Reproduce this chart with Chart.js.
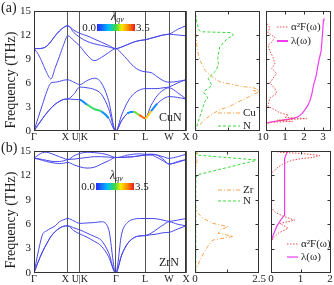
<!DOCTYPE html>
<html>
<head>
<meta charset="utf-8">
<script src="https://cdn.jsdelivr.net/npm/chart.js"></script>
<style>
  body { margin: 0; background: #fff; }
  #wrap { position: relative; width: 334px; height: 285px; overflow: hidden; font-family: 'Liberation Serif', serif; color: #222; }
  canvas { position: absolute; left: 0; top: 0; }
  .lbl { position: absolute; white-space: nowrap; line-height: 1; }
  .ytitle { position: absolute; white-space: nowrap; line-height: 1; font-size: 14px; transform: translate(-50%, -50%) rotate(-90deg); }
</style>
</head>
<body>
<div id="wrap">
  <canvas id="dispA" width="334" height="285"></canvas>
  <canvas id="dosA" width="334" height="285"></canvas>
  <canvas id="elA" width="334" height="285"></canvas>
  <canvas id="dispB" width="334" height="285"></canvas>
  <canvas id="dosB" width="334" height="285"></canvas>
  <canvas id="elB" width="334" height="285"></canvas>
  <div class="lbl" style="left:1px;top:1px;font-size:14px">(a)</div>
  <div class="lbl" style="left:1px;top:141px;font-size:14px">(b)</div>
  <div class="ytitle" style="left:11px;top:80px">Frequency (THz)</div>
  <div class="ytitle" style="left:11px;top:220px">Frequency (THz)</div>
  <div class="lbl" style="left:159px;top:111px;font-size:12px">CuN</div>
  <div class="lbl" style="left:159px;top:256px;font-size:12px">ZrN</div>
</div>
<script>
// --- chemin des points de haute symétrie ---
const kPos = [0, 0.125, 0.25, 0.375, 0.5, 0.625, 0.75, 0.875, 1, 1.177, 1.354, 1.566, 1.778, 1.99, 2.202, 2.414,
  2.587, 2.76, 2.934, 3.107, 3.28, 3.457, 3.634, 3.81, 3.987, 4.237, 4.487];
const symPos = [0, 1, 1.354, 2.414, 3.28, 3.987, 4.487];
const symLabels = ['Γ', 'X\u2002', 'U|K', 'Γ', 'L', 'W', 'X'];
const freqTicks = [0, 3, 6, 9, 12, 15];
const lamRange = [0.0, 3.5];

// --- CuN bandes (THz) ---
const cuBand1 = [0, 0.8, 1.55, 2.25, 2.85, 3.35, 3.7, 3.95, 4.0, 3.95, 3.9, 3.3, 2.75, 2.45, 1.6, 0, 1.3, 2.2, 2.4, 2.0, 1.6, 2.5, 3.4, 4.0, 4.3, 4.2, 4.0];
const cuBand2 = [0, 0.8, 1.55, 2.25, 2.85, 3.35, 3.7, 3.95, 4.0, 4.6, 5.5, 5.4, 5.2, 4.6, 2.8, 0, 1.3, 2.2, 2.4, 2.0, 1.6, 3.2, 4.4, 5.1, 5.4, 4.8, 4.0];
const cuBand3 = [0, 1.7, 3.3, 4.9, 6.0, 6.1, 6.2, 6.35, 6.4, 6.1, 5.8, 6.3, 6.6, 6.0, 3.8, 0, 2.0, 3.6, 4.6, 5.1, 5.3, 5.3, 5.3, 5.4, 5.5, 6.0, 6.4];
const cuBand4 = [10.3, 9.6, 8.5, 7.3, 6.5, 7.9, 9.3, 10.8, 11.9, 11.3, 10.6, 9.5, 8.8, 9.2, 9.8, 10.3, 9.7, 8.9, 8.1, 7.6, 7.4, 7.3, 6.8, 6.3, 6.1, 6.2, 6.4];
const cuBand5 = [10.3, 10.3, 10.35, 10.6, 11.2, 11.9, 12.5, 12.95, 13.15, 12.3, 11.7, 11.2, 10.9, 10.7, 10.5, 10.3, 10.5, 10.8, 11.1, 11.3, 11.4, 11.6, 11.8, 12.0, 12.1, 12.0, 11.9];
const cuBand6 = [10.3, 10.3, 10.35, 10.6, 11.2, 11.9, 12.5, 12.95, 13.15, 12.6, 12.2, 11.9, 11.5, 11.1, 10.7, 10.3, 10.5, 10.8, 11.1, 11.3, 11.4, 11.6, 11.8, 12.0, 12.1, 12.7, 13.15];
const cuLambda = [0, 0, 0, 0, 0, 0, 0, 0, 0, 0, 0, 1.3, 2.0, 1.2, 0.3, 0, 0, 0.3, 1.1, 2.7, 3.5, 1.4, 0, 0, 0, 0, 0];

// --- ZrN bandes (THz) ---
const zrBand1 = [0, 1.4, 2.6, 3.6, 4.5, 5.1, 5.5, 5.75, 5.8, 5.55, 5.3, 4.9, 4.5, 4.0, 2.5, 0, 2.2, 3.6, 4.3, 4.55, 4.6, 4.7, 4.8, 4.95, 5.0, 5.4, 5.8];
const zrBand2 = [0, 1.4, 2.6, 3.6, 4.5, 5.1, 5.5, 5.75, 5.8, 5.2, 4.8, 4.4, 3.9, 3.3, 2.0, 0, 2.2, 3.6, 4.3, 4.55, 4.6, 4.9, 5.4, 5.9, 6.3, 6.0, 5.8];
const zrBand3 = [0, 2.6, 4.7, 5.2, 5.5, 5.8, 6.3, 6.55, 6.7, 6.4, 6.1, 6.15, 6.2, 6.3, 5.4, 0, 4.8, 6.2, 6.6, 6.7, 6.7, 6.7, 6.65, 6.5, 6.35, 6.5, 6.7];
const zrBand4 = [14.1, 14.5, 14.8, 14.85, 14.7, 14.5, 14.3, 14.1, 13.95, 14.4, 14.7, 14.85, 14.8, 14.7, 14.5, 14.2, 14.3, 14.5, 14.6, 14.65, 14.6, 14.6, 14.5, 14.3, 14.1, 14.3, 14.6];
const zrBand5 = [14.1, 14.05, 13.95, 13.85, 13.75, 13.7, 13.7, 13.8, 13.95, 14.0, 14.1, 14.2, 14.3, 14.3, 14.25, 14.2, 14.2, 14.25, 14.3, 14.4, 14.5, 14.5, 14.2, 13.8, 13.4, 13.6, 13.95];
const zrBand6 = [14.1, 14.0, 13.85, 13.7, 13.6, 13.5, 13.45, 13.5, 13.6, 13.3, 13.05, 12.9, 13.0, 13.4, 13.8, 14.2, 14.2, 14.25, 14.3, 14.4, 14.5, 14.6, 14.5, 14.0, 13.4, 13.7, 13.95];

// --- PDOS CuN ---
const cuFreqA = [0, 0.5, 0.8, 1.2, 1.6, 2.2, 2.65, 3.1, 3.6, 4.1, 4.5, 4.9, 5.05, 5.2, 5.4, 5.55, 5.7, 6.15, 6.8, 7.6, 8.8, 10.1, 11.5, 12.2, 13.5, 15];
const cuDosA = [0, 0.01, 0.08, 0.12, 0.18, 0.28, 0.38, 0.54, 0.65, 0.79, 0.88, 0.99, 0.9, 0.97, 0.9, 0.75, 0.64, 0.38, 0.26, 0.15, 0.08, 0.035, 0.02, 0.015, 0.005, 0];
const nFreqA = [0, 0.2, 1.2, 2.4, 3.7, 4.1, 4.9, 5.7, 6.6, 7.2, 7.6, 8.4, 9.2, 10.5, 11.5, 12.0, 12.3, 12.4, 12.6, 13.5, 14.6, 15];
const nDosA = [0, 0.01, 0.05, 0.1, 0.15, 0.2, 0.13, 0.26, 0.2, 0.28, 0.33, 0.36, 0.35, 0.38, 0.49, 0.59, 0.55, 0.1, 0.06, 0.03, 0.01, 0];

// --- alpha2F et lambda CuN ---
const a2fFreqA = [0, 0.9, 1.1, 1.2, 1.35, 1.55, 1.7, 2.0, 2.3, 2.65, 3.1, 3.6, 4.1, 4.7, 5.3, 6.0, 6.6, 7.2, 7.8, 8.4, 9.2, 10.0, 10.7, 11.1, 11.7, 12.3, 12.9, 13.5, 14];
const a2fA = [0, 0, 0.3, 1.4, 0.6, 2.14, 1.0, 1.17, 0.7, 0.47, 0.1, 0.15, 0.2, 0.56, 0.47, 0.2, 0.37, 0.56, 0.3, 0.47, 0.37, 0.2, 0.1, 0.3, 0.47, 0.1, 0.2, 0.04, 0];
const lamFreqA = [0, 1.0, 1.15, 1.35, 1.6, 1.8, 2.2, 2.65, 3.2, 3.7, 4.5, 5.7, 7.0, 7.8, 9.0, 10.0, 12.0, 13.8, 14.1];
const lamA = [0, 0.02, 0.3, 0.9, 1.5, 1.7, 1.9, 2.05, 2.2, 2.3, 2.4, 2.5, 2.65, 2.7, 2.8, 2.9, 2.97, 3.02, 3.05];

// --- PDOS ZrN ---
const zrFreqB = [0, 0.5, 1.6, 2.4, 3.3, 4.05, 4.5, 4.9, 5.3, 5.7, 6.1, 6.7, 7.3, 8, 9, 12.5, 13.2, 13.8, 14.3, 14.8, 15];
const zrDosB = [0, 0.05, 0.2, 0.33, 0.5, 0.7, 1.5, 0.9, 1.0, 1.3, 0.7, 0.33, 0.13, 0.03, 0.01, 0.01, 0.06, 0.08, 0.05, 0.1, 0.02];
const nFreqB = [0, 11.5, 12.05, 13.8, 13.9, 14.5, 15];
const nDosB = [0.03, 0.03, 0.07, 2.34, 2.4, 0.07, 0.03];

// --- alpha2F et lambda ZrN ---
const a2fFreqB = [0, 3.9, 4.3, 4.9, 5.5, 6.1, 6.5, 7.0, 7.5, 8.0, 12.3, 12.9, 13.4, 13.85, 14.05, 14.2, 14.45, 14.7, 14.85, 15];
const a2fB = [0, 0, 0.08, 0.25, 0.58, 0.3, 0.8, 0.4, 0.13, 0.02, 0.02, 0.2, 0.4, 0.7, 1.0, 1.4, 1.65, 1.0, 0.3, 0.1];
const lamFreqB = [0, 3.85, 4.7, 5.7, 6.7, 7.1, 13.8, 14.1, 14.7, 15];
const lamB = [0, 0, 0.08, 0.19, 0.36, 0.45, 0.45, 0.47, 0.53, 0.56];

const W = 334, H = 285;
const serif = "'Liberation Serif', 'Times New Roman', serif";
Chart.defaults.font.family = serif;
Chart.defaults.font.size = 11;
Chart.defaults.color = '#222';

const bandColor = 'rgb(72,72,238)';
const lamStops = [[0, [40, 40, 255]], [0.3, [0, 190, 255]], [0.5, [60, 220, 60]], [0.65, [250, 235, 0]], [0.82, [255, 140, 0]], [1, [235, 25, 25]]];

function jet(t) {
  t = Math.max(0, Math.min(1, t));
  for (let i = 1; i < lamStops.length; i++) {
    const [t0, c0] = lamStops[i - 1];
    const [t1, c1] = lamStops[i];
    if (t <= t1) {
      const u = (t - t0) / (t1 - t0);
      return 'rgb(' + c0.map((v, j) => Math.round(v + (c1[j] - v) * u)).join(',') + ')';
    }
  }
}

const pts = (xs, ys) => xs.map((x, i) => ({ x: x, y: ys[i] }));
const dosPts = (fs, ds) => fs.map((f, i) => ({ x: ds[i], y: f }));
const numLabel = v => String(v);

// cadre + petits traits intérieurs
const framePlugin = {
  id: 'frame',
  afterDatasetsDraw(chart, args, o) {
    const { ctx, chartArea: a, scales } = chart;
    const L = Math.round(a.left) + 0.5, R = Math.round(a.right) - 0.5, T = Math.round(a.top) + 0.5, B = Math.round(a.bottom) - 0.5;
    ctx.save();
    ctx.strokeStyle = '#333';
    ctx.lineWidth = 1;
    ctx.strokeRect(L, T, R - L, B - T);
    ctx.beginPath();
    (o.yTicks || []).forEach(v => {
      const y = Math.round(scales.y.getPixelForValue(v)) + 0.5;
      ctx.moveTo(L, y); ctx.lineTo(L + 3, y);
      ctx.moveTo(R, y); ctx.lineTo(R - 3, y);
    });
    (o.xTicks || []).forEach(v => {
      const x = Math.round(scales.x.getPixelForValue(v)) + 0.5;
      ctx.moveTo(x, T); ctx.lineTo(x, T + 3);
      ctx.moveTo(x, B); ctx.lineTo(x, B - 3);
    });
    ctx.stroke();
    ctx.restore();
  }
};

// barre de couleur lambda_qv
const cbarPlugin = {
  id: 'cbar',
  afterDraw(chart, args, o) {
    if (!o || o.x === undefined) return;
    const ctx = chart.ctx;
    ctx.save();
    const g = ctx.createLinearGradient(o.x, 0, o.x + o.w, 0);
    lamStops.forEach(([t, c]) => g.addColorStop(t, 'rgb(' + c.join(',') + ')'));
    ctx.fillStyle = g;
    ctx.fillRect(o.x, o.y, o.w, o.h);
    ctx.fillStyle = '#222';
    ctx.font = '11px ' + serif;
    ctx.textBaseline = 'middle';
    ctx.textAlign = 'right';
    ctx.fillText(lamRange[0].toFixed(1), o.x - 1, o.y + o.h / 2 + 1);
    ctx.textAlign = 'left';
    ctx.fillText(lamRange[1].toFixed(1), o.x + o.w + 1, o.y + o.h / 2 + 1);
    ctx.font = 'italic 12px ' + serif;
    ctx.fillText('λ', o.lx, o.ly);
    const lw = ctx.measureText('λ').width;
    ctx.font = 'italic 8px ' + serif;
    ctx.fillText('qv', o.lx + lw, o.ly + 3);
    ctx.restore();
  }
};

// légende maison
const keyPlugin = {
  id: 'keys',
  afterDraw(chart, args, o) {
    const ctx = chart.ctx;
    (o.items || []).forEach(it => {
      const ds = chart.data.datasets[it.ds];
      ctx.save();
      ctx.strokeStyle = ds.borderColor;
      ctx.lineWidth = it.lw || ds.borderWidth;
      ctx.setLineDash(ds.borderDash || []);
      ctx.beginPath();
      ctx.moveTo(it.x, it.y);
      ctx.lineTo(it.x + it.len, it.y);
      ctx.stroke();
      ctx.setLineDash([]);
      ctx.fillStyle = '#222';
      ctx.font = '11px ' + serif;
      ctx.textBaseline = 'middle';
      ctx.fillText(ds.label, it.x + it.len + 3, it.y + 0.5);
      ctx.restore();
    });
  }
};

function fixSize(size) {
  return function (s) {
    if (s.isHorizontal()) s.height = size; else s.width = size;
    s.paddingLeft = 0; s.paddingRight = 0; s.paddingTop = 0; s.paddingBottom = 0;
  };
}

function panel(id, area, cfg) {
  const yw = cfg.yw || 0, xh = 12;
  return new Chart(document.getElementById(id), {
    type: 'line',
    data: { datasets: cfg.datasets },
    options: {
      responsive: false,
      animation: false,
      devicePixelRatio: 1,
      events: [],
      layout: { padding: { left: area.l - yw, top: area.t, right: W - area.r, bottom: Math.max(0, H - area.b - xh) } },
      plugins: {
        legend: { display: false },
        tooltip: { enabled: false },
        frame: { xTicks: cfg.innerX || [], yTicks: cfg.innerY || [] },
        cbar: cfg.cbar || {},
        keys: { items: cfg.keys || [] }
      },
      scales: {
        x: {
          type: 'linear', min: cfg.xMin, max: cfg.xMax,
          afterBuildTicks: s => { s.ticks = cfg.xTicks.map(v => ({ value: v })); },
          afterFit: fixSize(xh),
          grid: cfg.xGrid || { display: false, drawTicks: false },
          border: { display: false },
          ticks: { autoSkip: false, maxRotation: 0, padding: 0, color: '#222', font: { size: cfg.xFont || 11 }, callback: cfg.xLabel || numLabel }
        },
        y: {
          type: 'linear', min: 0, max: 15,
          display: yw > 0,
          afterBuildTicks: s => { s.ticks = freqTicks.map(v => ({ value: v })); },
          afterFit: fixSize(yw),
          grid: { display: false, drawTicks: false },
          border: { display: false },
          ticks: { autoSkip: false, padding: 3, color: '#222', font: { size: 11 }, callback: numLabel }
        }
      }
    },
    plugins: [framePlugin, cbarPlugin, keyPlugin]
  });
}

function bandSets(bands, lam) {
  return bands.map((b, n) => {
    const ds = { data: pts(kPos, b), borderColor: bandColor, borderWidth: 1, pointRadius: 0, cubicInterpolationMode: 'monotone', order: n === 0 ? 0 : 1 };
    if (lam && n === 0) {
      const avg = c => (lam[c.p0DataIndex] + lam[c.p1DataIndex]) / 2;
      ds.segment = {
        borderColor: c => (avg(c) > 0.2 ? jet(avg(c) / lamRange[1]) : bandColor),
        borderWidth: c => (avg(c) > 0.2 ? 2 : 1)
      };
    }
    return ds;
  });
}

const dispGrid = { display: true, drawTicks: false, color: '#555', lineWidth: 1 };
const symLabel = (v, i) => symLabels[i];

// (a) CuN
panel('dispA', { l: 34, t: 11, r: 186, b: 131 }, {
  yw: 26, xMin: 0, xMax: symPos[symPos.length - 1], xTicks: symPos, xLabel: symLabel, xGrid: dispGrid, xFont: 10,
  datasets: bandSets([cuBand1, cuBand2, cuBand3, cuBand4, cuBand5, cuBand6], cuLambda),
  cbar: { x: 97, y: 24, w: 38, h: 7, lx: 111, ly: 17 }
});
panel('dosA', { l: 195, t: 11, r: 260, b: 131 }, {
  xMin: 0, xMax: 1, xTicks: [0, 1], innerX: [0.5], innerY: [3, 6, 9, 12],
  datasets: [
    { label: 'Cu', data: dosPts(cuFreqA, cuDosA), borderColor: '#f6a54c', borderWidth: 1, borderDash: [4, 2, 1, 2], pointRadius: 0 },
    { label: 'N', data: dosPts(nFreqA, nDosA), borderColor: '#3ad83a', borderWidth: 1, borderDash: [3, 2], pointRadius: 0 }
  ],
  keys: [{ ds: 0, x: 218, y: 113, len: 22 }, { ds: 1, x: 218, y: 126, len: 22 }]
});
panel('elA', { l: 266, t: 11, r: 331, b: 131 }, {
  xMin: 0, xMax: 3.42, xTicks: [0, 1, 2, 3], innerX: [1, 2, 3], innerY: [3, 6, 9, 12],
  datasets: [
    { label: 'α²F(ω)', data: dosPts(a2fFreqA, a2fA), borderColor: '#f04a4a', borderWidth: 1, borderDash: [1.5, 1.5], pointRadius: 0 },
    { label: 'λ(ω)', data: dosPts(lamFreqA, lamA), borderColor: '#f03cf0', borderWidth: 1.2, pointRadius: 0 }
  ],
  keys: [{ ds: 0, x: 277, y: 27, len: 11 }, { ds: 1, x: 277, y: 41, len: 11, lw: 2 }]
});

// (b) ZrN
panel('dispB', { l: 34, t: 151, r: 186, b: 273 }, {
  yw: 26, xMin: 0, xMax: symPos[symPos.length - 1], xTicks: symPos, xLabel: symLabel, xGrid: dispGrid, xFont: 10,
  datasets: bandSets([zrBand1, zrBand2, zrBand3, zrBand4, zrBand5, zrBand6], null),
  cbar: { x: 96, y: 183, w: 38, h: 7, lx: 110, ly: 176 }
});
panel('dosB', { l: 195, t: 151, r: 259, b: 273 }, {
  xMin: 0, xMax: 2.5, xTicks: [0, 2.5], innerX: [1.25], innerY: [3, 6, 9, 12],
  datasets: [
    { label: 'Zr', data: dosPts(zrFreqB, zrDosB), borderColor: '#f6a54c', borderWidth: 1, borderDash: [4, 2, 1, 2], pointRadius: 0 },
    { label: 'N', data: dosPts(nFreqB, nDosB), borderColor: '#3ad83a', borderWidth: 1, borderDash: [3, 2], pointRadius: 0 }
  ],
  keys: [{ ds: 0, x: 218, y: 190, len: 22 }, { ds: 1, x: 218, y: 201, len: 22 }]
});
panel('elB', { l: 271, t: 151, r: 331, b: 273 }, {
  xMin: 0, xMax: 2.03, xTicks: [0, 1, 2], innerX: [1], innerY: [3, 6, 9, 12],
  datasets: [
    { label: 'α²F(ω)', data: dosPts(a2fFreqB, a2fB), borderColor: '#f04a4a', borderWidth: 1, borderDash: [1.5, 1.5], pointRadius: 0 },
    { label: 'λ(ω)', data: dosPts(lamFreqB, lamB), borderColor: '#f03cf0', borderWidth: 1.2, pointRadius: 0 }
  ],
  keys: [{ ds: 0, x: 287, y: 244, len: 11 }, { ds: 1, x: 287, y: 257, len: 11 }]
});
</script>
</body>
</html>
